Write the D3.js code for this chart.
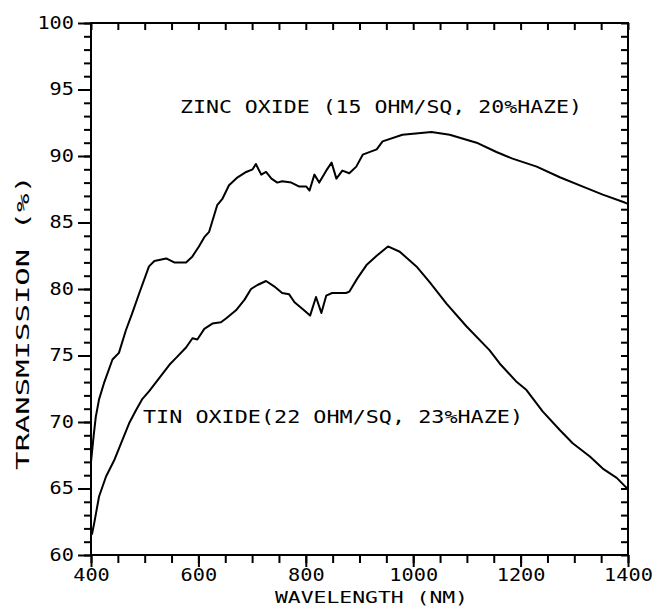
<!DOCTYPE html>
<html>
<head>
<meta charset="utf-8">
<script src="https://cdn.jsdelivr.net/npm/d3@7"></script>
<style>
  body { margin: 0; background: #fff; }
  svg text { font-family: "DejaVu Sans Mono", monospace; fill: #000; }
</style>
</head>
<body>
<div id="chart"></div>
<script>
// Transmission vs wavelength, two transparent conductive oxides
const zincNm = [400, 405, 409, 415, 424, 440, 452, 465, 477, 490, 508, 518, 540, 555, 577, 588, 601, 611, 620, 635,
  645, 657, 673, 689, 701, 707, 717, 726, 736, 747, 756, 773, 788, 801, 807, 816, 825, 838, 848, 857,
  868, 881, 894, 906, 932, 943, 980, 1034, 1068, 1118, 1155, 1185, 1230, 1273, 1316, 1353, 1394, 1400];
const zincT = [67.0, 69.0, 70.4, 71.7, 72.9, 74.7, 75.2, 76.9, 78.2, 79.7, 81.7, 82.1, 82.3, 82.0, 82.0, 82.4, 83.2, 83.9, 84.3, 86.3,
  86.8, 87.8, 88.4, 88.8, 89.0, 89.4, 88.6, 88.8, 88.3, 88.0, 88.1, 88.0, 87.7, 87.7, 87.4, 88.6, 88.0, 88.9, 89.5, 88.3,
  88.9, 88.7, 89.2, 90.1, 90.5, 91.1, 91.6, 91.8, 91.6, 91.0, 90.3, 89.8, 89.2, 88.4, 87.7, 87.1, 86.5, 86.4];

const tinNm = [400, 402, 406, 415, 428, 443, 458, 471, 484, 495, 508, 527, 546, 558, 577, 589, 598, 611, 626, 642,
  652, 670, 686, 698, 710, 726, 741, 756, 769, 779, 794, 808, 819, 829, 838, 849, 875, 881, 896, 913,
  932, 953, 975, 1006, 1031, 1062, 1099, 1142, 1161, 1193, 1211, 1241, 1273, 1297, 1329, 1353, 1379, 1396, 1400];
const tinT = [61.5, 61.6, 62.4, 64.4, 65.9, 67.1, 68.6, 69.9, 70.9, 71.7, 72.3, 73.3, 74.3, 74.8, 75.6, 76.3, 76.2, 77.0, 77.4, 77.5,
  77.8, 78.4, 79.2, 80.0, 80.3, 80.6, 80.2, 79.7, 79.6, 79.0, 78.5, 78.0, 79.4, 78.2, 79.5, 79.7, 79.7, 79.8, 80.8, 81.8,
  82.5, 83.2, 82.8, 81.7, 80.5, 78.9, 77.2, 75.4, 74.4, 73.0, 72.4, 70.8, 69.4, 68.4, 67.4, 66.5, 65.8, 65.1, 65.0];

const xMajor = [400, 600, 800, 1000, 1200, 1400];
const yMajor = [60, 65, 70, 75, 80, 85, 90, 95, 100];

const W = 657, H = 607;
const plotL = 91, plotR = 628, plotT = 23, plotB = 555;

const svg = d3.select('#chart').append('svg')
  .attr('width', W).attr('height', H);

const x = d3.scaleLinear().domain([400, 1400]).range([plotL, plotR]);
const y = d3.scaleLinear().domain([60, 100]).range([plotB, plotT]);

const xMinor = d3.range(400, 1401, 50);
const yMinor = d3.range(60, 101, 1);

function styleAxis(g) {
  g.select('.domain').remove();
  g.selectAll('line').attr('stroke', '#000').attr('stroke-width', 2);
}

// left: minor + major outward ticks
svg.append('g').attr('transform', `translate(${plotL},0)`)
  .call(d3.axisLeft(y).tickValues(yMinor).tickSize(7).tickFormat(''))
  .call(styleAxis);
const yAx = svg.append('g').attr('transform', `translate(${plotL},0)`)
  .call(d3.axisLeft(y).tickValues(yMajor).tickSize(13).tickPadding(4).tickFormat(d3.format('d')))
  .call(styleAxis);
yAx.selectAll('text')
  .style('font-size', '17px')
  .attr('textLength', d => String(d).length * 12.2)
  .attr('lengthAdjust', 'spacingAndGlyphs');

// right: inward minor ticks
svg.append('g').attr('transform', `translate(${plotR},0)`)
  .call(d3.axisRight(y).tickValues(yMinor).tickSize(-7).tickFormat(''))
  .call(styleAxis);

// top: inward ticks
svg.append('g').attr('transform', `translate(0,${plotT})`)
  .call(d3.axisTop(x).tickValues(xMinor).tickSize(-7).tickFormat(''))
  .call(styleAxis);

// bottom: minor + major outward ticks
svg.append('g').attr('transform', `translate(0,${plotB})`)
  .call(d3.axisBottom(x).tickValues(xMinor).tickSize(8).tickFormat(''))
  .call(styleAxis);
const xAx = svg.append('g').attr('transform', `translate(0,${plotB})`)
  .call(d3.axisBottom(x).tickValues(xMajor).tickSize(12).tickPadding(2).tickFormat(d3.format('d')))
  .call(styleAxis);
xAx.selectAll('text')
  .style('font-size', '17px')
  .attr('textLength', d => String(d).length * 12.2)
  .attr('lengthAdjust', 'spacingAndGlyphs');

// frame
svg.append('rect')
  .attr('x', plotL).attr('y', plotT)
  .attr('width', plotR - plotL).attr('height', plotB - plotT)
  .attr('fill', 'none').attr('stroke', '#000').attr('stroke-width', 2);

// curves
const line = d3.line().x(d => x(d[0])).y(d => y(d[1]));
[[zincNm, zincT], [tinNm, tinT]].forEach(([nm, t]) => {
  svg.append('path')
    .datum(nm.map((v, i) => [v, t[i]]))
    .attr('d', line)
    .attr('fill', 'none')
    .attr('stroke', '#000')
    .attr('stroke-width', 2)
    .attr('stroke-linejoin', 'round');
});

// curve labels
svg.append('text')
  .attr('x', 180).attr('y', 113)
  .style('font-size', '17px')
  .attr('textLength', 402).attr('lengthAdjust', 'spacingAndGlyphs')
  .text('ZINC OXIDE (15 OHM/SQ, 20%HAZE)');

svg.append('text')
  .attr('x', 143).attr('y', 423)
  .style('font-size', '17px')
  .attr('textLength', 380).attr('lengthAdjust', 'spacingAndGlyphs')
  .text('TIN OXIDE(22 OHM/SQ, 23%HAZE)');

// axis titles
svg.append('text')
  .attr('x', 275).attr('y', 603)
  .style('font-size', '16px')
  .attr('textLength', 193).attr('lengthAdjust', 'spacingAndGlyphs')
  .text('WAVELENGTH (NM)');

svg.append('text')
  .attr('transform', 'translate(29,470) rotate(-90)')
  .style('font-size', '17px')
  .attr('textLength', 295).attr('lengthAdjust', 'spacingAndGlyphs')
  .text('TRANSMISSION (%)');
</script>
</body>
</html>
